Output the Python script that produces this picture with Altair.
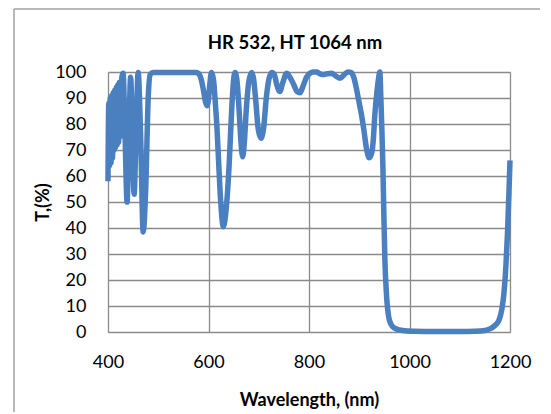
import altair as alt
import pandas as pd

wavelength = [400, 401.5, 403, 404.5, 406, 407.5, 409, 410.5, 412, 413.5, 415, 416.5, 418, 419.5,
              421, 422.5, 424, 427, 430, 434, 438, 441.5, 445, 448.5, 452, 456, 460, 465, 470, 475,
              480, 484, 490, 520, 550, 575, 580, 585, 590, 594, 597, 600, 603, 606, 610, 614, 617,
              620, 624, 629.5, 635, 641, 646, 650, 653, 657, 661, 665, 668, 671, 675, 680, 686, 690,
              694, 699, 704.5, 710, 715, 720, 726, 731, 736, 742, 748, 755.6, 762, 770, 776, 782,
              788, 795, 802, 808, 815, 822, 828, 836, 845, 853, 862, 870, 878, 884, 889, 894, 899,
              904, 909, 914, 920, 925, 928, 931, 935, 938, 941, 943, 945, 947, 949, 951, 954, 958,
              963, 970, 980, 995, 1010, 1050, 1100, 1130, 1150, 1160, 1170, 1178, 1184, 1188, 1192,
              1195, 1198, 1200]
transmission = [58, 88, 64, 90, 65, 91, 67, 92, 70, 93, 71, 94, 72, 95,
                73, 96, 75, 97, 99.5, 75, 50, 75, 98, 76, 53, 78, 99.8, 75, 38.5, 55,
                90, 99, 99.8, 99.8, 99.8, 99.8, 99.5, 97.5, 93, 88.5, 87, 89.5, 96, 99.8, 97, 87, 78,
                66, 51, 40.5, 47, 64, 85, 97, 99.8, 96, 85, 72, 67.4, 72, 85, 96, 99.8, 97,
                89, 78, 74.5, 79, 90, 97, 99.8, 99, 95, 92.5, 96, 99.5, 98, 95, 92.5, 92,
                94.5, 98, 99.5, 100, 100, 99.3, 99, 99.3, 99.5, 98.5, 97.6, 99, 100, 99.8, 98, 94, 89,
                84, 78, 71, 67, 69, 74, 83.5, 92, 97, 100, 90, 78, 64, 45, 28, 15, 6.5,
                3, 1.5, 0.8, 0.4, 0.3, 0.2, 0.2, 0.3, 0.6, 1.2, 2.5, 4.5, 9, 15, 26,
                38, 54, 66]

x_ticks = [400, 600, 800, 1000, 1200]
y_ticks = [0, 10, 20, 30, 40, 50, 60, 70, 80, 90, 100]

df = pd.DataFrame({"wl": wavelength, "T": transmission})

grid_color = "#8a8a8a"
font = "Lato"

line = alt.Chart(df).mark_line(
    color="#4a7fc0", strokeWidth=5.5, interpolate="monotone"
).encode(
    x=alt.X("wl:Q", scale=alt.Scale(domain=[400, 1200], nice=False),
            axis=alt.Axis(values=x_ticks, format="d", title="Wavelength, (nm)", grid=True,
                          gridColor=grid_color, gridWidth=1.3, ticks=False, domain=False,
                          labelFontSize=18, labelFont=font, labelColor="#000000",
                          labelPadding=21, titleFont=font, titleFontSize=18,
                          titleFontWeight="bold", titleColor="#000000", titlePadding=20,
                          labelFlush=False)),
    y=alt.Y("T:Q", scale=alt.Scale(domain=[0, 100], nice=False),
            axis=alt.Axis(values=y_ticks, format="d", title="T,(%)", grid=True,
                          gridColor=grid_color, gridWidth=1.3, ticks=False, domain=False,
                          labelFontSize=18, labelFont=font, labelColor="#000000",
                          labelPadding=22, titleFont=font, titleFontSize=18,
                          titleFontWeight="bold", titleColor="#000000", titlePadding=2,
                          labelFlush=False)),
)

frame = pd.DataFrame({"k": [0]})
left_edge = alt.Chart(frame).mark_rule(color="#a0a0a0", strokeWidth=1.5).encode(
    x=alt.value(-94), y=alt.value(-63), y2=alt.value(360))
top_edge = alt.Chart(frame).mark_rule(color="#a0a0a0", strokeWidth=1.5).encode(
    x=alt.value(-94), x2=alt.value(470), y=alt.value(-63))

chart = alt.layer(left_edge, top_edge, line).properties(
    width=402, height=260,
    padding={"left": 100, "top": 64, "right": 30, "bottom": 80},
    autosize=alt.AutoSizeParams(type="none"),
    title=alt.TitleParams("HR 532, HT 1064 nm", font=font, fontSize=18.5, fontWeight="bold",
                          color="#000000", anchor="middle", offset=22, dx=-14, dy=66),
).configure_view(stroke=grid_color, strokeWidth=1.3).configure(background="white")

chart.save("out.html", embed_options={"renderer": "svg", "actions": False})
